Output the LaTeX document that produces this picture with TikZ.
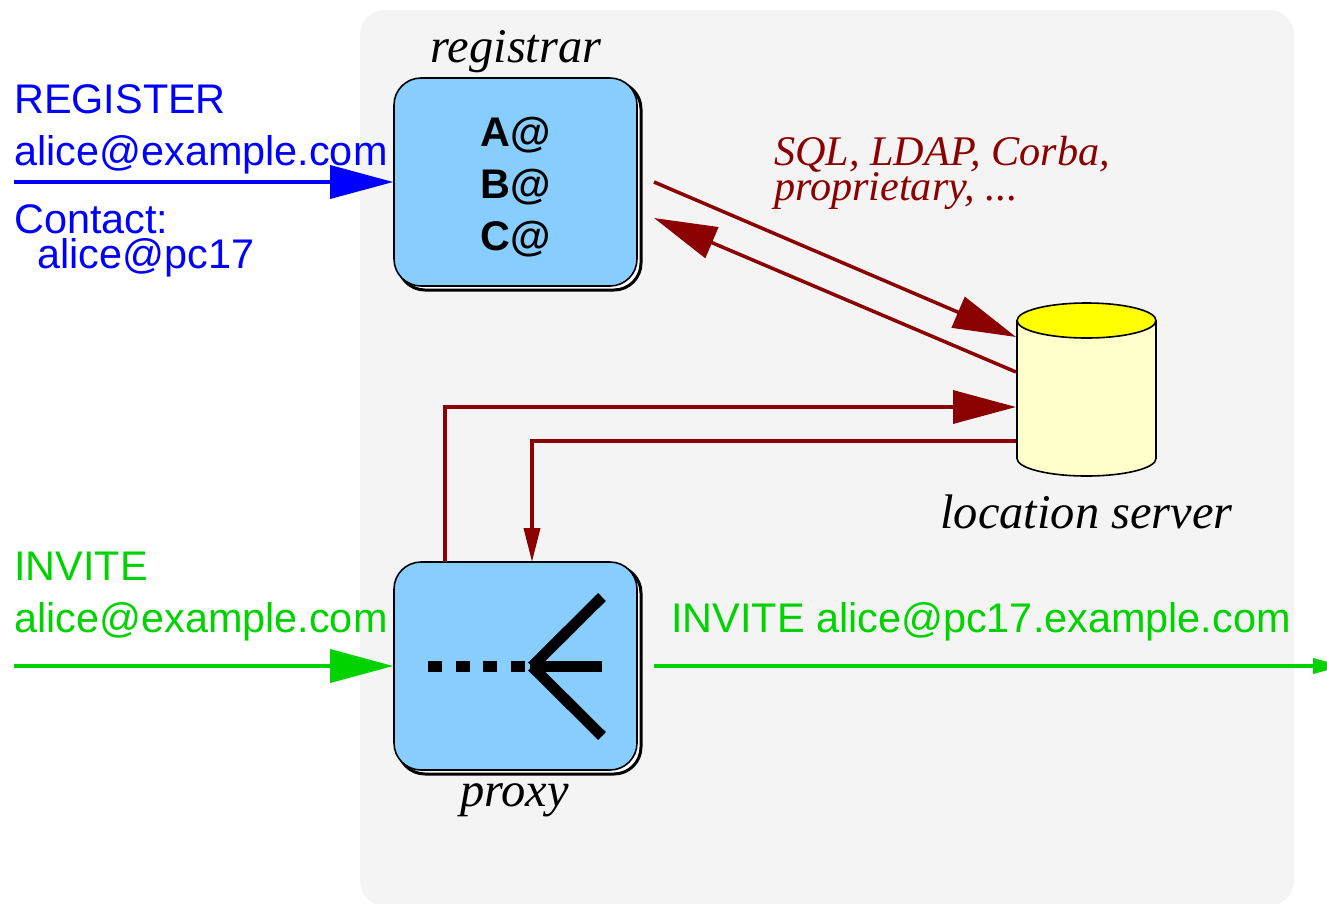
\documentclass[tikz,border=0pt]{standalone}
\usepackage{fontspec}
\setmainfont{Liberation Serif}
\setsansfont{Liberation Sans}
\usetikzlibrary{%
        arrows.meta,
        shadows
    }
\definecolor{boxblue}{RGB}{135, 206, 255}
\definecolor{dbred}{RGB}{139, 0, 0}
\definecolor{sipblue}{RGB}{0, 0, 255}
\definecolor{sipgreen}{RGB}{0, 211, 0}
\definecolor{panelgray}{RGB}{244, 244, 244}
\definecolor{dbbody}{RGB}{255, 255, 204}
\definecolor{dbtopfill}{RGB}{255, 255, 0}
\tikzset{
    server/.style={
        draw=black, line width=1.6pt, fill=boxblue, rounded corners=27pt,
        minimum width=243pt, minimum height=208pt, inner sep=0pt,
        copy shadow={draw=black, fill=white, line width=3pt, shadow xshift=4pt, shadow yshift=-4pt}
    },
    sans/.style={anchor=base west, inner sep=0pt, font=\sffamily\fontsize{41.4}{52}\selectfont},
    role/.style={anchor=base, inner sep=0pt, font=\itshape\fontsize{48.5}{52}\selectfont},
    bigtip/.style={-{Triangle[length=63pt, width=33pt]}},
    flow/.style={line width=3.5pt}
}
\begin{document}
\begin{tikzpicture}[x=1pt, y=-1pt]

    \useasboundingbox (0, 0) rectangle (1327, 903);
    \fill[panelgray, rounded corners=25pt] (360, 10) rectangle (1294, 906);

    \node[server] (registrar) at (515.5, 182) {};
    \node[server] (proxy) at (515.5, 666) {};
    \node[align=center, inner sep=0pt, font=\sffamily\bfseries\fontsize{41.4}{52}\selectfont]
        (addresses) at (515.5, 187) {A@\\B@\\C@};

    % database drum
    \filldraw[fill=dbbody, line width=1.6pt]
        (1017, 320.5) -- (1017, 458.5)
        arc[start angle=180, end angle=360, x radius=69.5pt, y radius=17.5pt] --
        (1156, 320.5);
    \filldraw[fill=dbtopfill, line width=1.6pt]
        (1086.5, 320.5) ellipse[x radius=69.5pt, y radius=17.5pt];

    \node[role] (registrarlabel) at (516, 62) {registrar};
    \node[role] (proxylabel) at (514.5, 806) {proxy};
    \node[role] (dblabel) at (1086.5, 528.5) {location server};
    \node[anchor=base west, inner sep=0pt, text=dbred, font=\itshape\fontsize{42.2}{35}\selectfont,
        align=left] (protocols) at (774, 200) {SQL, LDAP, Corba,\\proprietary, ...};

    \node[sans, text=sipblue] (regline) at (14, 113) {REGISTER};
    \node[sans, text=sipblue] (regaddr) at (14, 165) {alice@example.com};
    \node[sans, text=sipblue] (contact) at (14, 233) {Contact:};
    \node[sans, text=sipblue] (contactaddr) at (37, 268) {alice@pc17};
    \node[sans, text=sipgreen] (invline) at (14, 580) {INVITE};
    \node[sans, text=sipgreen] (invaddr) at (14, 632) {alice@example.com};
    \node[sans, text=sipgreen] (invout) at (671, 632) {INVITE alice@pc17.example.com};

    \coordinate (regstart) at (14, 182);
    \coordinate (invstart) at (14, 666);
    \coordinate (invstop) at (654, 666);
    \coordinate (invend) at (1343, 666);
    \coordinate (regout) at (654, 182);
    \coordinate (regin) at (654, 218);
    \coordinate (dbtop) at (1016, 337);
    \coordinate (dbback) at (1016, 372);
    \coordinate (dbquery) at (1016, 407);
    \coordinate (dbreply) at (1016, 441);
    \coordinate (proxyout) at (445, 562);
    \coordinate (proxyin) at (532, 562);

    \draw[bigtip, flow, sipblue] (regstart) -- (registrar.west);
    \draw[bigtip, flow, sipgreen] (invstart) -- (proxy.west);
    \draw[-{Triangle[length=30pt, width=15pt]}, flow, sipgreen] (invstop) -- (invend);

    \draw[bigtip, flow, dbred] (regout) -- (dbtop);
    \draw[bigtip, flow, dbred] (dbback) -- (regin);
    \draw[bigtip, flow, dbred] (proxyout) |- (dbquery);
    \draw[-{Triangle[length=34pt, width=16pt]}, flow, dbred] (dbreply) -| (proxyin);

    % forking icon
    \coordinate (fork) at (532, 666.5);
    \foreach \val in {428, 455.7, 483.4, 511.1} {%
        \fill[black] (\val, 661) rectangle (\val+14, 672);
    };
    \draw[line width=11pt] (530, 666.5) -- (602, 666.5);
    \draw[line width=11pt] (fork) -- (602, 597);
    \draw[line width=11pt] (fork) -- (602, 736);

\end{tikzpicture}
\end{document}
